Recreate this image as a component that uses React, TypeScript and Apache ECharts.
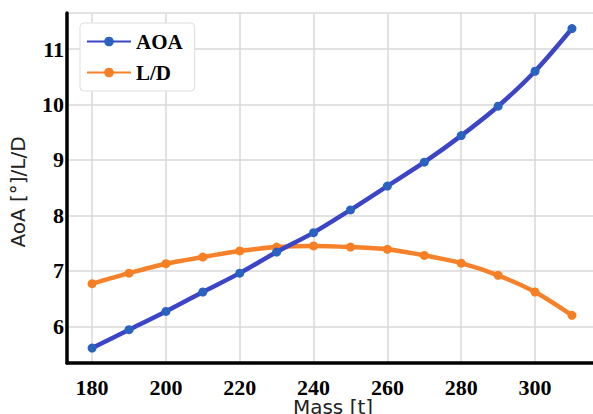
import React, { useEffect, useRef } from "react";
import * as echarts from "echarts";

const masses = [180, 190, 200, 210, 220, 230, 240, 250, 260, 270, 280, 290, 300, 310];
const aoa = [5.61, 5.94, 6.27, 6.62, 6.96, 7.34, 7.69, 8.1, 8.53, 8.96, 9.44, 9.97, 10.6, 11.37];
const ld = [6.77, 6.96, 7.13, 7.25, 7.36, 7.43, 7.45, 7.43, 7.39, 7.28, 7.14, 6.92, 6.62, 6.2];
const xTicks = [180, 200, 220, 240, 260, 280, 300];
const yTicks = [6, 7, 8, 9, 10, 11];

export default function App() {
  const ref = useRef<HTMLDivElement>(null);
  useEffect(() => {
    if (!ref.current) return;
    const chart = echarts.init(ref.current, null, { renderer: "svg" });
    const serif = "'Liberation Serif', 'Times New Roman', serif";
    chart.setOption({
      animation: false,
      backgroundColor: "#ffffff",
      grid: { left: 67, top: 13, right: 0, bottom: 51, containLabel: false, show: false },
      legend: {
        left: 80,
        top: 23,
        orient: "vertical",
        backgroundColor: "#ffffff",
        borderColor: "#dddddd",
        borderWidth: 1,
        borderRadius: 4,
        padding: [8, 12, 8, 6],
        itemWidth: 44,
        itemHeight: 12,
        itemGap: 10,
        textStyle: { fontFamily: serif, fontWeight: "bold", fontSize: 21, color: "#000" },
        data: ["AOA", "L/D"],
      },
      xAxis: {
        type: "value",
        min: 173.2,
        max: 315.7,
        axisLine: { show: true, onZero: false, lineStyle: { color: "#000", width: 3.5 } },
        axisTick: { show: false, customValues: xTicks },
        axisLabel: {
          customValues: xTicks,
          margin: 13,
          fontFamily: serif,
          fontWeight: "bold",
          fontSize: 22,
          color: "#000",
        },
        splitLine: { show: true, lineStyle: { color: "#d9d9d9", width: 1.5 } },
      },
      yAxis: {
        type: "value",
        min: 5.34,
        max: 11.65,
        axisLine: { show: true, onZero: false, lineStyle: { color: "#000", width: 3.5 } },
        axisTick: { show: false, customValues: yTicks },
        axisLabel: {
          customValues: yTicks,
          margin: 3,
          fontFamily: serif,
          fontWeight: "bold",
          fontSize: 22,
          color: "#000",
        },
        splitLine: { show: true, lineStyle: { color: "#d9d9d9", width: 1.5 } },
      },
      graphic: [
        {
          type: "line",
          shape: { x1: 67, y1: 13, x2: 593, y2: 13 },
          style: { stroke: "#d9d9d9", lineWidth: 1.5 },
          silent: true,
        },
        {
          type: "text",
          x: 18,
          y: 192,
          rotation: Math.PI / 2,
          style: {
            text: "AoA [°]/L/D",
            fontFamily: "'DejaVu Sans', sans-serif",
            fontSize: 20,
            fill: "#222",
            textAlign: "center",
            textVerticalAlign: "middle",
          },
        },
        {
          type: "text",
          x: 333,
          y: 407,
          style: {
            text: "Mass [t]",
            fontFamily: "'DejaVu Sans', sans-serif",
            fontSize: 20,
            fill: "#222",
            textAlign: "center",
            textVerticalAlign: "middle",
          },
        },
      ],
      series: [
        {
          name: "AOA",
          type: "line",
          data: masses.map((m, i) => [m, aoa[i]]),
          smooth: 0.3,
          symbol: "circle",
          symbolSize: 9,
          lineStyle: { color: "#3B45C6", width: 4.5 },
          itemStyle: { color: "#2A62C0" },
          z: 3,
        },
        {
          name: "L/D",
          type: "line",
          data: masses.map((m, i) => [m, ld[i]]),
          smooth: 0.3,
          symbol: "circle",
          symbolSize: 9,
          lineStyle: { color: "#F5822A", width: 4.5 },
          itemStyle: { color: "#F57F22" },
          z: 2,
        },
      ],
    });
    return () => chart.dispose();
  }, []);
  return <div ref={ref} style={{ width: 593, height: 414, position: "fixed", left: 0, top: 0 }} />;
}
